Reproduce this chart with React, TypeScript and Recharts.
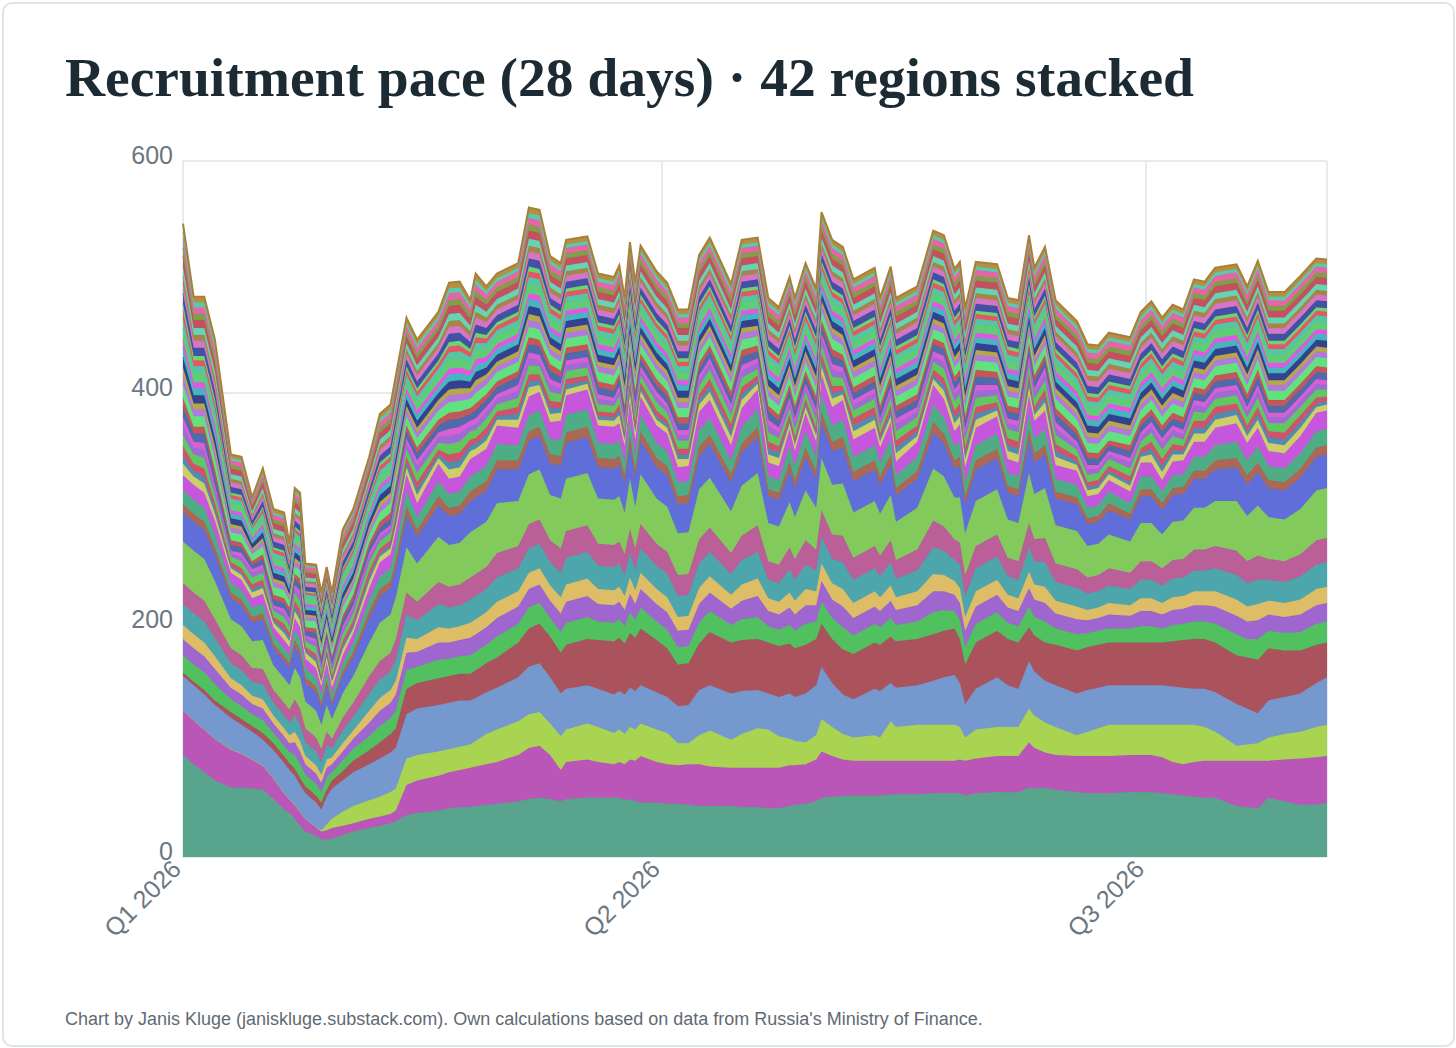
import { AreaChart, Area, XAxis, YAxis, CartesianGrid } from 'recharts';

// day offsets from 1 Jan 2026
const days = [
  0, 2, 4, 6, 9, 11, 13, 15, 17, 19, 20, 21, 22, 23, 25, 26, 27, 28, 30, 32,
  35, 37, 39, 40, 42, 44, 48, 50, 52, 54, 55, 57, 59, 63, 65, 67, 69, 71, 72, 76,
  78, 81, 82, 83, 84, 85, 86, 89, 91, 93, 95, 97, 99, 103, 105, 108, 110, 112, 114, 115,
  117, 119, 120, 122, 124, 126, 130, 131, 133, 134, 138, 141, 143, 145, 146, 147, 149, 153, 155, 157,
  159, 160, 162, 164, 168, 170, 172, 174, 178, 180, 182, 184, 186, 188, 190, 192, 194, 198, 200, 202,
  204, 207, 210, 213, 215,
];

// five largest regions (bottom of the stack)
const bottomRows = [
  [88, 39, 0, 29, 3], [80, 38, 0, 30, 3], [73, 37, 0, 30, 4], [66, 36, 0, 29, 4], [60, 33, 0, 27, 5],
  [60, 29, 0, 25, 5], [59, 25, 0, 24, 5], [58, 21, 0, 22, 6], [50, 18, 0, 24, 6], [41, 14, 0, 26, 6],
  [38, 12, 0, 25, 6], [33, 12, 0, 25, 6], [27, 12, 0, 23, 6], [22, 11, 0, 22, 6], [18, 8, 0, 21, 6],
  [15, 7, 1, 18, 6], [15, 8, 5, 24, 6], [16, 9, 8, 26, 7], [19, 8, 12, 27, 8], [22, 7, 15, 29, 10],
  [25, 8, 16, 31, 12], [27, 8, 17, 33, 14], [29, 8, 19, 34, 16], [31, 9, 19, 35, 17], [36, 26, 23, 38, 22],
  [38, 28, 22, 40, 22], [40, 30, 21, 40, 23], [42, 31, 20, 40, 23], [43, 32, 20, 40, 23], [43, 34, 20, 38, 23],
  [44, 34, 22, 37, 24], [45, 35, 26, 36, 25], [46, 36, 28, 36, 26], [48, 40, 29, 38, 30], [50, 44, 29, 41, 33],
  [51, 45, 29, 42, 34], [50, 38, 27, 40, 35], [48, 27, 29, 37, 35], [50, 32, 28, 35, 38], [51, 33, 31, 33, 40],
  [51, 31, 30, 33, 42], [51, 29, 27, 33, 46], [51, 31, 28, 33, 46], [49, 31, 26, 34, 44], [50, 34, 28, 34, 47],
  [48, 35, 27, 33, 46], [47, 40, 28, 33, 49], [47, 35, 28, 32, 45], [46, 34, 27, 31, 42], [46, 33, 19, 32, 36],
  [45, 35, 18, 33, 36], [44, 36, 25, 39, 40], [44, 34, 31, 39, 46], [44, 33, 24, 40, 44], [43, 34, 29, 37, 44],
  [43, 34, 34, 33, 44], [42, 35, 33, 31, 44], [42, 35, 27, 34, 44], [44, 35, 23, 39, 43], [45, 34, 21, 38, 42],
  [46, 34, 19, 42, 42], [48, 36, 21, 43, 40], [51, 40, 28, 45, 37], [52, 35, 25, 38, 38], [53, 31, 22, 34, 39],
  [53, 30, 20, 33, 39], [53, 30, 22, 40, 40], [53, 30, 20, 40, 40], [54, 29, 34, 33, 40], [54, 29, 29, 34, 40],
  [54, 29, 31, 34, 40], [55, 28, 31, 38, 40], [55, 28, 31, 41, 40], [55, 28, 31, 43, 40], [55, 29, 28, 38, 38],
  [53, 30, 20, 29, 34], [55, 30, 25, 35, 40], [56, 31, 25, 43, 40], [56, 31, 25, 36, 40], [56, 31, 25, 33, 40],
  [60, 39, 29, 41, 29], [59, 35, 28, 38, 31], [60, 30, 26, 36, 33], [58, 30, 24, 36, 35], [56, 31, 18, 36, 37],
  [55, 32, 21, 36, 37], [55, 32, 24, 35, 37], [55, 32, 27, 34, 37], [56, 32, 26, 34, 37], [56, 32, 26, 34, 37],
  [56, 32, 26, 34, 37], [55, 31, 28, 34, 37], [54, 28, 32, 33, 39], [53, 27, 34, 32, 41], [52, 30, 32, 31, 43],
  [51, 32, 29, 33, 43], [51, 32, 25, 34, 43], [44, 39, 13, 36, 42], [43, 40, 14, 31, 44], [42, 41, 15, 26, 46],
  [51, 32, 20, 32, 45], [48, 36, 22, 32, 40], [45, 40, 23, 33, 37], [45, 41, 26, 38, 33], [47, 40, 27, 41, 30],
];

// next ten regions, by level of the middle block
const mid80 = [7, 7, 6, 8, 8, 17, 12, 3, 6, 6];
const mid100 = [9, 8, 7, 11, 11, 21, 15, 4, 7, 7];
const mid110 = [10, 9, 7, 12, 12, 23, 16, 5, 8, 8];
const mid120 = [11, 10, 8, 13, 13, 25, 18, 5, 8, 9];
const mid130 = [12, 11, 9, 14, 14, 27, 19, 5, 9, 10];
const mid140 = [12, 12, 10, 15, 15, 29, 21, 6, 10, 10];
const mid155 = [14, 13, 11, 16, 16, 33, 23, 6, 11, 12];
const mid170 = [15, 14, 12, 18, 18, 36, 25, 7, 12, 13];
const mid185 = [16, 15, 13, 20, 19, 39, 27, 8, 13, 15];
const mid200 = [18, 16, 14, 21, 21, 43, 29, 8, 14, 16];
const mid215 = [19, 18, 15, 23, 23, 45, 31, 9, 15, 17];

// remaining 27 small regions, by level of the top block
const up81 = [4, 2, 3, 5, 3, 2, 4, 3, 6, 3, 2, 4, 3, 2, 5, 3, 2, 1, 4, 3, 2, 3, 4, 2, 3, 1, 2];
const up82 = [5, 2, 3, 5, 3, 2, 4, 3, 6, 3, 2, 4, 3, 2, 5, 3, 2, 1, 4, 3, 2, 3, 4, 2, 3, 1, 2];
const up87 = [5, 3, 4, 6, 4, 3, 4, 3, 6, 3, 2, 4, 3, 2, 5, 3, 2, 1, 4, 3, 2, 3, 4, 2, 3, 1, 2];
const up89 = [5, 3, 4, 6, 4, 3, 5, 4, 6, 3, 2, 4, 3, 2, 5, 3, 2, 1, 4, 3, 2, 3, 4, 2, 3, 1, 2];
const up102 = [4, 2, 3, 5, 3, 2, 5, 4, 7, 4, 3, 5, 4, 3, 6, 4, 3, 2, 5, 4, 3, 4, 5, 3, 4, 2, 3];
const up106 = [4, 2, 4, 6, 4, 3, 5, 4, 7, 4, 3, 5, 4, 3, 6, 4, 3, 2, 5, 4, 3, 4, 5, 3, 4, 2, 3];
const up107 = [4, 3, 4, 6, 4, 3, 5, 4, 7, 4, 3, 5, 4, 3, 6, 4, 3, 2, 5, 4, 3, 4, 5, 3, 4, 2, 3];
const up108 = [5, 3, 4, 6, 4, 3, 5, 4, 7, 4, 3, 5, 4, 3, 6, 4, 3, 2, 5, 4, 3, 4, 5, 3, 4, 2, 3];
const up110 = [6, 4, 4, 6, 4, 3, 5, 4, 7, 4, 3, 5, 4, 3, 6, 4, 3, 2, 5, 4, 3, 4, 5, 3, 4, 2, 3];
const up112 = [6, 4, 5, 7, 4, 3, 5, 4, 7, 4, 3, 5, 4, 3, 6, 4, 3, 2, 5, 4, 3, 4, 5, 3, 4, 2, 3];
const up113 = [6, 4, 5, 7, 5, 3, 5, 4, 7, 4, 3, 5, 4, 3, 6, 4, 3, 2, 5, 4, 3, 4, 5, 3, 4, 2, 3];
const up116 = [6, 4, 5, 7, 5, 4, 6, 5, 7, 4, 3, 5, 4, 3, 6, 4, 3, 2, 5, 4, 3, 4, 5, 3, 4, 2, 3];
const up127 = [5, 3, 4, 6, 4, 3, 5, 4, 8, 5, 4, 6, 5, 4, 7, 5, 4, 3, 6, 5, 4, 5, 6, 4, 5, 3, 4];
const up128 = [5, 3, 4, 6, 4, 3, 5, 5, 8, 5, 4, 6, 5, 4, 7, 5, 4, 3, 6, 5, 4, 5, 6, 4, 5, 3, 4];
const up129 = [5, 3, 4, 6, 4, 3, 6, 5, 8, 5, 4, 6, 5, 4, 7, 5, 4, 3, 6, 5, 4, 5, 6, 4, 5, 3, 4];
const up130 = [5, 3, 4, 6, 4, 4, 6, 5, 8, 5, 4, 6, 5, 4, 7, 5, 4, 3, 6, 5, 4, 5, 6, 4, 5, 3, 4];
const up131 = [5, 3, 4, 6, 5, 4, 6, 5, 8, 5, 4, 6, 5, 4, 7, 5, 4, 3, 6, 5, 4, 5, 6, 4, 5, 3, 4];
const up132 = [5, 3, 4, 7, 5, 4, 6, 5, 8, 5, 4, 6, 5, 4, 7, 5, 4, 3, 6, 5, 4, 5, 6, 4, 5, 3, 4];
const up133 = [5, 3, 5, 7, 5, 4, 6, 5, 8, 5, 4, 6, 5, 4, 7, 5, 4, 3, 6, 5, 4, 5, 6, 4, 5, 3, 4];
const up134 = [5, 4, 5, 7, 5, 4, 6, 5, 8, 5, 4, 6, 5, 4, 7, 5, 4, 3, 6, 5, 4, 5, 6, 4, 5, 3, 4];
const up135 = [6, 4, 5, 7, 5, 4, 6, 5, 8, 5, 4, 6, 5, 4, 7, 5, 4, 3, 6, 5, 4, 5, 6, 4, 5, 3, 4];
const up136 = [7, 4, 5, 7, 5, 4, 6, 5, 8, 5, 4, 6, 5, 4, 7, 5, 4, 3, 6, 5, 4, 5, 6, 4, 5, 3, 4];
const up137 = [7, 5, 5, 7, 5, 4, 6, 5, 8, 5, 4, 6, 5, 4, 7, 5, 4, 3, 6, 5, 4, 5, 6, 4, 5, 3, 4];
const up138 = [7, 5, 6, 7, 5, 4, 6, 5, 8, 5, 4, 6, 5, 4, 7, 5, 4, 3, 6, 5, 4, 5, 6, 4, 5, 3, 4];
const up139 = [7, 5, 6, 8, 5, 4, 6, 5, 8, 5, 4, 6, 5, 4, 7, 5, 4, 3, 6, 5, 4, 5, 6, 4, 5, 3, 4];
const up140 = [7, 5, 6, 8, 6, 4, 6, 5, 8, 5, 4, 6, 5, 4, 7, 5, 4, 3, 6, 5, 4, 5, 6, 4, 5, 3, 4];
const up141 = [7, 5, 6, 8, 6, 5, 6, 5, 8, 5, 4, 6, 5, 4, 7, 5, 4, 3, 6, 5, 4, 5, 6, 4, 5, 3, 4];
const up142 = [7, 5, 6, 8, 6, 5, 7, 5, 8, 5, 4, 6, 5, 4, 7, 5, 4, 3, 6, 5, 4, 5, 6, 4, 5, 3, 4];
const up143 = [7, 5, 6, 8, 6, 5, 7, 6, 8, 5, 4, 6, 5, 4, 7, 5, 4, 3, 6, 5, 4, 5, 6, 4, 5, 3, 4];
const up144 = [7, 5, 6, 8, 6, 5, 7, 6, 9, 5, 4, 6, 5, 4, 7, 5, 4, 3, 6, 5, 4, 5, 6, 4, 5, 3, 4];
const up145 = [7, 5, 6, 8, 6, 5, 7, 6, 9, 6, 4, 6, 5, 4, 7, 5, 4, 3, 6, 5, 4, 5, 6, 4, 5, 3, 4];
const up156 = [6, 4, 5, 7, 5, 4, 7, 6, 9, 6, 5, 7, 6, 5, 8, 6, 5, 4, 7, 6, 5, 6, 7, 5, 6, 4, 5];
const up157 = [6, 4, 5, 7, 5, 5, 7, 6, 9, 6, 5, 7, 6, 5, 8, 6, 5, 4, 7, 6, 5, 6, 7, 5, 6, 4, 5];
const up162 = [7, 5, 6, 8, 6, 5, 7, 6, 9, 6, 5, 7, 6, 5, 8, 6, 5, 4, 7, 6, 5, 6, 7, 5, 6, 4, 5];
const up163 = [8, 5, 6, 8, 6, 5, 7, 6, 9, 6, 5, 7, 6, 5, 8, 6, 5, 4, 7, 6, 5, 6, 7, 5, 6, 4, 5];
const up168 = [8, 6, 7, 9, 7, 6, 7, 6, 9, 6, 5, 7, 6, 5, 8, 6, 5, 4, 7, 6, 5, 6, 7, 5, 6, 4, 5];
const up169 = [8, 6, 7, 9, 7, 6, 8, 6, 9, 6, 5, 7, 6, 5, 8, 6, 5, 4, 7, 6, 5, 6, 7, 5, 6, 4, 5];
const up217 = [10, 7, 8, 10, 8, 7, 9, 8, 11, 8, 7, 9, 8, 7, 10, 8, 7, 6, 9, 8, 7, 8, 9, 7, 8, 6, 7];

const middleRows = [
  mid170, mid170, mid170, mid155, mid120, mid120, mid110, mid120, mid100, mid100,
  mid100, mid130, mid130, mid110, mid110, mid100, mid110, mid80, mid100, mid110,
  mid140, mid155, mid155, mid170, mid185, mid155, mid185, mid170, mid170, mid185,
  mid185, mid185, mid200, mid185, mid200, mid200, mid185, mid200, mid215, mid215,
  mid185, mid185, mid185, mid170, mid200, mid170, mid200, mid185, mid185, mid170,
  mid170, mid200, mid200, mid170, mid200, mid215, mid155, mid155, mid185, mid170,
  mid200, mid170, mid215, mid200, mid215, mid185, mid185, mid170, mid185, mid155,
  mid170, mid215, mid200, mid170, mid185, mid170, mid185, mid185, mid155, mid155,
  mid200, mid185, mid200, mid155, mid155, mid130, mid130, mid140, mid130, mid155,
  mid155, mid140, mid155, mid155, mid170, mid170, mid185, mid200, mid185, mid200,
  mid170, mid170, mid185, mid200, mid200,
];

const upperRows = [
  up217, up162, up169, up156, up102, up106, up87, up108, up102, up110,
  up89, up112, up116, up82, up89, up81, up82, up82, up108, up107,
  up113, up128, up129, up134, up135, up141, up131, up169, up168, up137,
  up157, up140, up131, up142, up163, up157, up143, up136, up134, up132,
  up131, up129, up136, up128, up137, up136, up130, up133, up130, up136,
  up135, up135, up140, up139, up145, up131, up142, up137, up131, up132,
  up129, up132, up140, up144, up132, up138, up138, up129, up134, up141,
  up134, up133, up141, up140, up140, up137, up143, up131, up139, up140,
  up138, up132, up141, up142, up129, up131, up128, up127, up133, up130,
  up139, up140, up135, up130, up140, up138, up138, up137, up135, up144,
  up137, up139, up138, up133, up130,
];

const regionColors = [
  '#52a088', '#b84fb6', '#a6d24a', '#6f94cc', '#a84c56', '#4abe5a', '#9a60cc', '#dcba60', '#45a2a8', '#b85894',
  '#7ec856', '#5a68d8', '#a8624e', '#48aa80', '#c450dc', '#cccc62', '#4a86ad', '#cf4c64', '#5ac65a', '#9c64d2',
  '#d658d2', '#4a64aa', '#c25050', '#5ce07a', '#b072da', '#b3a342', '#2a3a8c', '#40b2ba', '#e050e2', '#58ca70',
  '#50c2a0', '#e25060', '#68d268', '#3a4aa2', '#d270c2', '#a28040', '#60d2b0', '#c24a5a', '#7a9c40', '#e260a2',
  '#50caa8', '#b48a3a',
];

const yTicks = [0, 200, 400, 600];
const quarterDays = [0, 90, 181];
const quarterLabels = ['Q1 2026', 'Q2 2026', 'Q3 2026'];

const keys = regionColors.map((_, i) => `r${i + 1}`);

const data = days.map((day, i) => {
  const values = [...bottomRows[i], ...middleRows[i], ...upperRows[i]];
  const row: Record<string, number> = { day };
  values.forEach((v, j) => {
    row[keys[j]] = v;
  });
  return row;
});

const sans = '"Liberation Sans", Arial, sans-serif';

const YTick = ({ x, y, payload }: any) => (
  <text x={x - 10} y={y - 4} textAnchor="end" dominantBaseline="middle" fontSize={25} fill="#6b7782" fontFamily={sans}>
    {payload.value}
  </text>
);

const XTick = ({ x, y, payload }: any) => {
  const idx = quarterDays.indexOf(payload.value);
  const ax = x - 5;
  const ay = y + 9;
  return (
    <text x={ax} y={ay} transform={`rotate(-45 ${ax} ${ay})`} textAnchor="end" dominantBaseline="middle" fontSize={25} fill="#6b7782" fontFamily={sans}>
      {quarterLabels[idx]}
    </text>
  );
};

export default function App() {
  return (
    <div style={{ position: 'relative', width: 1456, height: 1048, background: '#fff', overflow: 'hidden' }}>
      <style>{'body{margin:0}'}</style>
      <div
        style={{
          position: 'absolute', left: 2, top: 2, width: 1449, height: 1041,
          border: '2px solid #dfe4e6', borderRadius: 10,
        }}
      />
      <div
        style={{
          position: 'absolute', left: 65, top: 50, fontFamily: '"Liberation Serif", "Times New Roman", serif',
          fontWeight: 700, fontSize: 55.5, lineHeight: '55.5px', color: '#1c2b33', whiteSpace: 'nowrap',
        }}
      >
        Recruitment pace (28 days) · 42 regions stacked
      </div>
      <div style={{ position: 'absolute', left: 0, top: 0 }}>
        <AreaChart width={1456} height={1048} data={data} margin={{ top: 161, right: 129, left: 113, bottom: 101 }}>
          <CartesianGrid stroke="#dfe5e8" strokeWidth={1.5} />
          <XAxis
            dataKey="day" type="number" domain={[0, 215]} ticks={quarterDays}
            axisLine={false} tickLine={false} tickSize={0} tickMargin={0} height={90}
            tick={<XTick />} interval={0}
          />
          <YAxis
            domain={[0, 600]} ticks={yTicks} axisLine={false} tickLine={false}
            tickSize={0} tickMargin={0} width={70} tick={<YTick />} interval={0}
          />
          {keys.map((k, i) => (
            <Area
              key={k}
              type="linear"
              dataKey={k}
              stackId="regions"
              fill={regionColors[i]}
              fillOpacity={0.96}
              stroke={i === keys.length - 1 ? '#a8803a' : regionColors[i]}
              strokeWidth={i === keys.length - 1 ? 2 : 1}
              dot={false}
              activeDot={false}
              isAnimationActive={false}
            />
          ))}
        </AreaChart>
      </div>
      <div
        style={{
          position: 'absolute', left: 65, top: 1010, fontFamily: sans, fontSize: 18, lineHeight: '18px',
          color: '#5f6a73', whiteSpace: 'nowrap',
        }}
      >
        Chart by Janis Kluge (janiskluge.substack.com). Own calculations based on data from Russia's Ministry of Finance.
      </div>
    </div>
  );
}
